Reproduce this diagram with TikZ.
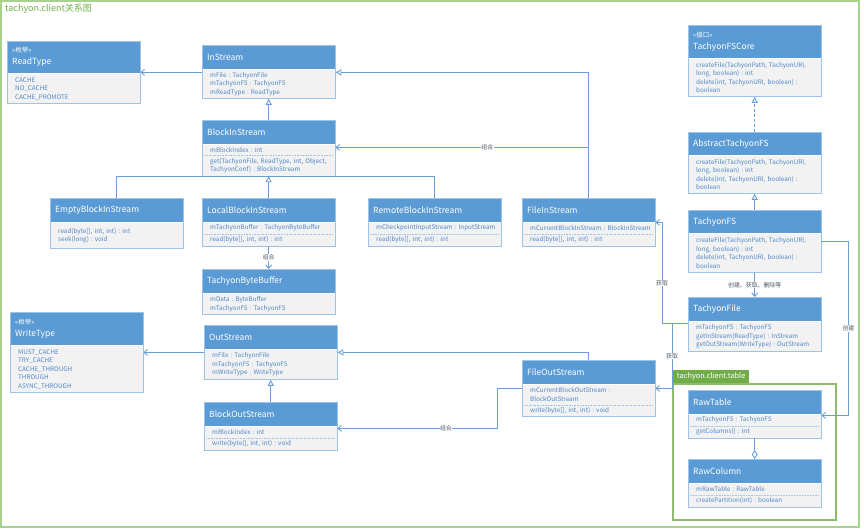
\documentclass[tikz,border=0pt]{standalone}
\usepackage{fontspec}
\setmainfont{Noto Sans CJK SC}
\usetikzlibrary{arrows.meta}
\definecolor{hdrblue}{HTML}{5B9BD5}
\definecolor{bodygray}{HTML}{F2F2F2}
\definecolor{frameblue}{HTML}{9DC3E6}
\definecolor{linkblue}{HTML}{6A9FD6}
\definecolor{membertxt}{HTML}{4F86C6}
\definecolor{pkggreen}{HTML}{70AD47}
\definecolor{outergreen}{HTML}{A9D18E}
\definecolor{lbltxt}{HTML}{505A64}
\newcommand{\stereofont}{\fontsize{6.5}{8}\selectfont}

\tikzset{
  hdr/.style={fill=hdrblue, text=white, anchor=north west, minimum width=133pt, minimum height=24pt,
    inner xsep=5pt, inner ysep=0pt, text width=123pt, align=left, font=\fontsize{8.5}{10}\selectfont},
  bdy/.style={fill=bodygray, text=membertxt, anchor=north, minimum width=133pt, inner xsep=2pt,
    inner ysep=1pt, text width=129pt, align=left, font=\fontsize{6.3}{8.5}\selectfont,
    execute at begin node={\leftskip=6pt\frenchspacing\hyphenpenalty=10000\relax}},
  frame/.style={draw=frameblue, line width=0.9pt},
  sep/.style={draw=frameblue, densely dotted, line width=0.6pt},
  link/.style={draw=linkblue, line width=0.9pt},
  gen/.style={link, -{Triangle[open, length=6pt, width=6pt]}},
  dep/.style={link, -{Straight Barb[length=3.5pt, width=6pt]}},
  real/.style={gen, dash pattern=on 3pt off 2pt},
  agg/.style={link, -{Diamond[open, length=9pt, width=6pt]}},
  lbl/.style={fill=white, inner sep=0.5pt, text=lbltxt, font=\fontsize{5.9}{6}\selectfont},
}

\begin{document}
\begin{tikzpicture}[x=1pt, y=-1pt]
    \useasboundingbox (0,0) rectangle (864,530);
    % 外框与标题
    \draw[outergreen, line width=1.6pt] (1,1) rectangle (859,527);
    \node (title) [anchor=north west, text=pkggreen, inner sep=0pt, font=\fontsize{9}{10}\selectfont] at (5,4) {tachyon.client关系图};

    % 包 tachyon.client.table
    \node (pkgtab) [anchor=south west, fill=pkggreen, text=white, minimum width=76pt, minimum height=14pt,
      inner sep=0pt, font=\fontsize{7.4}{8}\selectfont] at (673,384) {tachyon.client.table};
    \draw[pkggreen!80, line width=1.2pt] (pkgtab.south west) rectangle (836,520);

    % 枚举
    \node (readtype) [hdr, minimum height=32pt] at (7,41) {{\stereofont «枚举»}\\[2pt]ReadType};
    \node (readtype-b) [bdy, minimum height=30pt] at (readtype.south) {CACHE\\NO\_CACHE\\CACHE\_PROMOTE};
    \node (writetype) [hdr, minimum height=33pt] at (10,312) {{\stereofont «枚举»}\\[2pt]WriteType};
    \node (writetype-b) [bdy, minimum height=47pt] at (writetype.south) {MUST\_CACHE\\TRY\_CACHE\\CACHE\_THROUGH\\THROUGH\\ASYNC\_THROUGH};

    % 输入流
    \node (instream) [hdr] at (202,45) {InStream};
    \node (instream-b) [bdy, minimum height=29pt] at (instream.south) {mFile : TachyonFile\\mTachyonFS : TachyonFS\\mReadType : ReadType};
    \node (blockin) [hdr] at (202,120) {BlockInStream};
    \node (blockin-a) [bdy, minimum height=10pt] at (blockin.south) {mBlockIndex : int};
    \node (blockin-o) [bdy, minimum height=21pt] at (blockin-a.south) {get(TachyonFile, ReadType, int, Object,\\TachyonConf) : BlockInStream};
    \node (emptyin) [hdr] at (50,198) {EmptyBlockInStream};
    \node (emptyin-b) [bdy, minimum height=26pt] at (emptyin.south) {read(byte[], int, int) : int\\seek(long) : void};
    \node (localin) [hdr] at (202,198) {LocalBlockInStream};
    \node (localin-a) [bdy, minimum height=11pt] at (localin.south) {mTachyonBuffer : TachyonByteBuffer};
    \node (localin-o) [bdy, minimum height=12pt] at (localin-a.south) {read(byte[], int, int) : int};
    \node (remotein) [hdr] at (368,198) {RemoteBlockInStream};
    \node (remotein-a) [bdy, minimum height=11pt] at (remotein.south) {mCheckpointInputStream : InputStream};
    \node (remotein-o) [bdy, minimum height=12pt] at (remotein-a.south) {read(byte[], int, int) : int};
    \node (bytebuf) [hdr] at (202,269) {TachyonByteBuffer};
    \node (bytebuf-b) [bdy, minimum height=21pt] at (bytebuf.south) {mData : ByteBuffer\\mTachyonFS : TachyonFS};
    \node (filein) [hdr] at (522,198) {FileInStream};
    \node (filein-a) [bdy, minimum height=11pt] at (filein.south) {mCurrentBlockInStream : BlockInStream};
    \node (filein-o) [bdy, minimum height=12pt] at (filein-a.south) {read(byte[], int, int) : int};

    % 输出流
    \node (outstream) [hdr] at (204,325) {OutStream};
    \node (outstream-b) [bdy, minimum height=30pt] at (outstream.south) {mFile : TachyonFile\\mTachyonFS : TachyonFS\\mWriteType : WriteType};
    \node (blockout) [hdr] at (204,402) {BlockOutStream};
    \node (blockout-a) [bdy, minimum height=11pt] at (blockout.south) {mBlockIndex : int};
    \node (blockout-o) [bdy, minimum height=12pt] at (blockout-a.south) {write(byte[], int, int) : void};
    \node (fileout) [hdr] at (522,360) {FileOutStream};
    \node (fileout-a) [bdy, minimum height=20pt] at (fileout.south) {mCurrentBlockOutStream :\\BlockOutStream};
    \node (fileout-o) [bdy, minimum height=11pt] at (fileout-a.south) {write(byte[], int, int) : void};

    % 文件系统
    \node (fscore) [hdr, minimum height=33pt] at (688,25) {{\stereofont «接口»}\\[2pt]TachyonFSCore};
    \node (fscore-b) [bdy, minimum height=38pt] at (fscore.south) {createFile(TachyonPath, TachyonURI,\\long, boolean) : int\\delete(int, TachyonURI, boolean) :\\boolean};
    \node (absfs) [hdr, minimum height=23pt] at (688,132) {AbstractTachyonFS};
    \node (absfs-b) [bdy, minimum height=38pt] at (absfs.south) {createFile(TachyonPath, TachyonURI,\\long, boolean) : int\\delete(int, TachyonURI, boolean) :\\boolean};
    \node (tfs) [hdr, minimum height=23pt] at (688,210) {TachyonFS};
    \node (tfs-b) [bdy, minimum height=39pt] at (tfs.south) {createFile(TachyonPath, TachyonURI,\\long, boolean) : int\\delete(int, TachyonURI, boolean) :\\boolean};
    \node (tfile) [hdr] at (688,297) {TachyonFile};
    \node (tfile-b) [bdy, minimum height=30pt] at (tfile.south) {mTachyonFS : TachyonFS\\getInStream(ReadType) : InStream\\getOutStream(WriteType) : OutStream};

    % 表
    \node (rawtable) [hdr] at (688,390) {RawTable};
    \node (rawtable-a) [bdy, minimum height=11pt] at (rawtable.south) {mTachyonFS : TachyonFS};
    \node (rawtable-o) [bdy, minimum height=12pt] at (rawtable-a.south) {getColumns() : int};
    \node (rawcol) [hdr] at (688,459) {RawColumn};
    \node (rawcol-a) [bdy, minimum height=11pt] at (rawcol.south) {mRawTable : RawTable};
    \node (rawcol-o) [bdy, minimum height=12pt] at (rawcol-a.south) {createPartition(int) : boolean};

    % 边框与分隔线
    \foreach \h/\b in {readtype/readtype-b, writetype/writetype-b, instream/instream-b, blockin/blockin-o,
      emptyin/emptyin-b, localin/localin-o, remotein/remotein-o, bytebuf/bytebuf-b, filein/filein-o,
      outstream/outstream-b, blockout/blockout-o, fileout/fileout-o, fscore/fscore-b, absfs/absfs-b,
      tfs/tfs-b, tfile/tfile-b, rawtable/rawtable-o, rawcol/rawcol-o}
      \draw[frame] (\h.north west) rectangle (\b.south east);
    \foreach \a in {blockin-a, localin-a, remotein-a, filein-a, blockout-a, fileout-a, rawtable-a, rawcol-a}
      \draw[sep] ([xshift=2pt]\a.south west) -- ([xshift=-2pt]\a.south east);

    % 连线
    \coordinate (insL) at ([yshift=-3pt]instream.south west);
    \coordinate (insR) at ([yshift=-3pt]instream.south east);
    \coordinate (bisR) at ([yshift=-3pt]blockin.south east);
    \coordinate (osL) at ([yshift=-3pt]outstream.south west);
    \coordinate (osR) at ([yshift=-3pt]outstream.south east);

    \draw[dep] (insL) -- (insL -| readtype.east);
    \draw[gen] (blockin.north) -- (instream-b.south);
    \draw[link] (emptyin.north) -- (emptyin.north |- blockin-o.south) -- (remotein.north |- blockin-o.south) -- (remotein.north);
    \draw[gen] (localin.north) -- (blockin-o.south);
    \draw[dep] (localin-o.south) -- node[lbl]{组合} (bytebuf.north);
    \draw[gen] (filein.north) |- (insR);
    \draw[dep] (bisR -| filein.north) -- node[lbl, pos=.4]{组合} (bisR);

    \draw[dep] (osL) -- (osL -| writetype.east);
    \draw[gen] (blockout.north) -- (outstream-b.south);
    \draw[gen] (fileout.north) |- (osR);
    \draw[dep] ([yshift=-4pt]fileout.south west) -- ++(-25,0) |- node[lbl, pos=.66]{组合} ([yshift=-2pt]blockout.south east);

    \draw[real] (absfs.north) -- (fscore-b.south);
    \draw[gen] (tfs.north) -- (absfs-b.south);
    \draw[dep] (tfs-b.south) -- node[lbl]{创建、获取、删除等} (tfile.north);
    \draw[dep] ([yshift=-2pt]tfile.south west) -- ++(-26,0) |- node[lbl, pos=.2]{获取} (filein.south east);
    \draw[dep] ([shift={(-16pt,-2pt)}]tfile.south west) |- node[lbl, pos=.25]{获取} ([yshift=-4pt]fileout.south east);
    \draw[dep] ([yshift=-8pt]tfs.south east) -- ++(27,0) |- node[lbl, pos=.25]{创建} ([yshift=-1pt]rawtable.south east);
    \draw[agg] (rawtable-o.south) -- (rawcol.north);
\end{tikzpicture}
\end{document}
